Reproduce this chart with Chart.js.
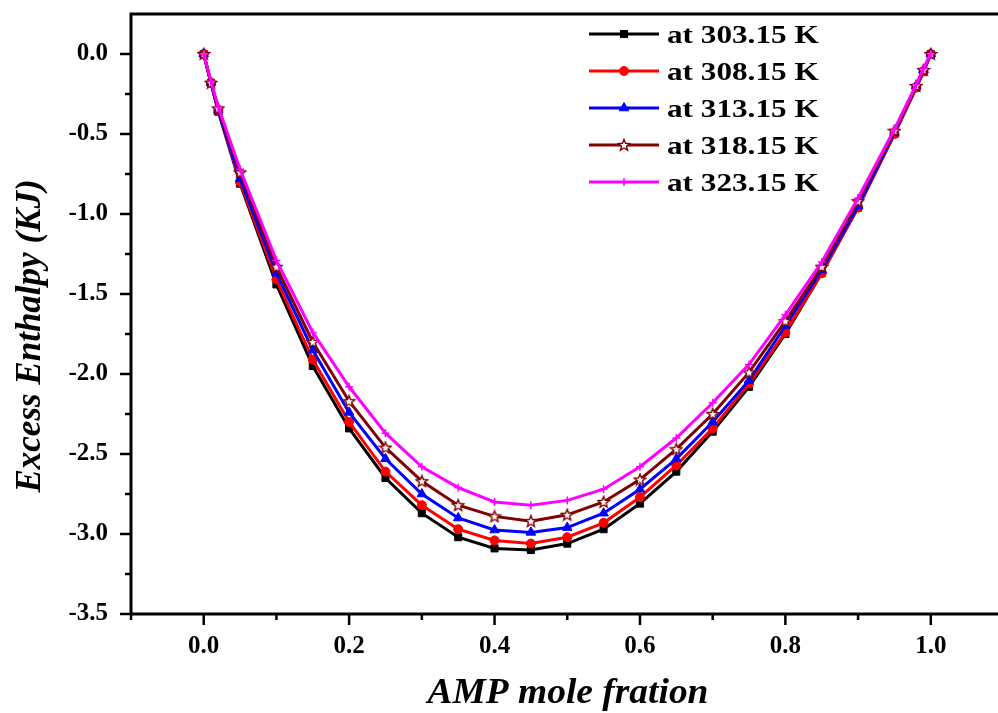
<!DOCTYPE html>
<html>
<head>
<meta charset="utf-8">
<script src="https://cdn.jsdelivr.net/npm/chart.js@4.4.1/dist/chart.umd.min.js"></script>
<style>
html,body{margin:0;padding:0;background:#fff;overflow:hidden;}
#wrap{width:998px;height:713px;position:relative;}
canvas{display:block;}
</style>
</head>
<body>
<div id="wrap"><canvas id="c" width="998" height="713"></canvas></div>
<script>
// ---- data ----
const moleFraction = [0,0.01,0.02,0.05,0.1,0.15,0.2,0.25,0.3,0.35,0.4,0.45,0.5,0.55,0.6,0.65,0.7,0.75,0.8,0.85,0.9,0.95,0.98,0.99,1.0];
const hE_303 = [0,-0.18,-0.36,-0.81,-1.44,-1.95,-2.34,-2.65,-2.87,-3.02,-3.09,-3.10,-3.06,-2.97,-2.81,-2.61,-2.36,-2.08,-1.75,-1.37,-0.96,-0.50,-0.21,-0.11,0];
const hE_308 = [0,-0.18,-0.35,-0.80,-1.41,-1.91,-2.30,-2.61,-2.82,-2.97,-3.04,-3.06,-3.02,-2.93,-2.77,-2.57,-2.34,-2.06,-1.74,-1.37,-0.96,-0.50,-0.21,-0.11,0];
const hE_313 = [0,-0.18,-0.35,-0.78,-1.37,-1.85,-2.24,-2.53,-2.75,-2.90,-2.975,-2.99,-2.96,-2.87,-2.72,-2.53,-2.30,-2.04,-1.70,-1.35,-0.95,-0.49,-0.20,-0.10,0];
const hE_318 = [0,-0.18,-0.34,-0.74,-1.33,-1.80,-2.17,-2.46,-2.67,-2.82,-2.89,-2.92,-2.88,-2.80,-2.66,-2.47,-2.25,-1.99,-1.67,-1.33,-0.92,-0.48,-0.20,-0.10,0];
const hE_323 = [0,-0.17,-0.33,-0.72,-1.29,-1.74,-2.08,-2.37,-2.58,-2.71,-2.80,-2.82,-2.79,-2.72,-2.58,-2.40,-2.18,-1.94,-1.63,-1.30,-0.90,-0.47,-0.19,-0.09,0];
const seriesLabels = ['at 303.15 K','at 308.15 K','at 313.15 K','at 318.15 K','at 323.15 K'];
const xTickValues = [0,0.2,0.4,0.6,0.8,1.0];
const yTickValues = [0,-0.5,-1.0,-1.5,-2.0,-2.5,-3.0,-3.5];
const xTitle = 'AMP mole fration';
const yTitle = 'Excess Enthalpy (KJ)';

const seriesValues = [hE_303,hE_308,hE_313,hE_318,hE_323];

// five-point star marker (white fill, dark red outline)
function makeStar(){
  const c = document.createElement('canvas');
  c.width = 14; c.height = 14;
  const g = c.getContext('2d');
  const cx = 7, cy = 7.4, R = 6, r = 2.6;
  g.beginPath();
  for (let k = 0; k < 10; k++) {
    const ang = -Math.PI/2 + k*Math.PI/5;
    const rad = (k % 2 === 0) ? R : r;
    const px = cx + rad*Math.cos(ang), py = cy + rad*Math.sin(ang);
    if (k === 0) g.moveTo(px,py); else g.lineTo(px,py);
  }
  g.closePath();
  g.fillStyle = '#FFFFFF'; g.fill();
  g.strokeStyle = '#800000'; g.lineWidth = 1.4; g.stroke();
  return c;
}
const starImg = makeStar();

const styles = [
  {color:'#000000', fill:'#000000', pointStyle:'rect', radius:5, bw:1},
  {color:'#FF0000', fill:'#FF0000', pointStyle:'circle', radius:4.5, bw:1},
  {color:'#0000FF', fill:'#0000FF', pointStyle:'triangle', radius:5.5, bw:1},
  {color:'#800000', fill:'#FFFFFF', pointStyle:starImg, radius:6, bw:1.3},
  {color:'#FF00FF', fill:'#FF00FF', pointStyle:'cross', radius:4, bw:1.5}
];

const datasets = seriesValues.map((vals,i)=>({
  label: seriesLabels[i],
  data: moleFraction.map((x,j)=>({x:x,y:vals[j]})),
  borderColor: styles[i].color,
  backgroundColor: styles[i].fill,
  pointBorderColor: styles[i].color,
  pointBackgroundColor: styles[i].fill,
  pointStyle: styles[i].pointStyle,
  pointRadius: styles[i].radius,
  pointBorderWidth: styles[i].bw,
  borderWidth: 3,
  tension: 0,
  order: 5 - i
}));

const SERIF = '"Liberation Serif", "Times New Roman", serif';

function drawMarker(ctx, st, x, y){
  ctx.save();
  if (typeof st.pointStyle !== 'string') {
    ctx.drawImage(st.pointStyle, x - st.pointStyle.width/2, y - st.pointStyle.height/2);
  } else {
    const opts = {pointStyle: st.pointStyle, radius: st.radius, borderWidth: st.bw, rotation: 0};
    ctx.fillStyle = st.fill; ctx.strokeStyle = st.color; ctx.lineWidth = st.bw;
    if (Chart.helpers && Chart.helpers.drawPoint) {
      Chart.helpers.drawPoint(ctx, opts, x, y);
    } else {
      ctx.beginPath(); ctx.arc(x,y,st.radius,0,Math.PI*2); ctx.fill(); ctx.stroke();
    }
  }
  ctx.restore();
}

const decor = {
  id:'decor',
  afterDraw(chart){
    const ctx = chart.ctx;
    const a = chart.chartArea;
    const xs = chart.scales.x, ys = chart.scales.y;
    ctx.save();
    // frame (right side lies beyond the picture edge)
    ctx.strokeStyle = '#000'; ctx.lineWidth = 3;
    ctx.beginPath();
    ctx.moveTo(a.left, a.bottom); ctx.lineTo(a.left, a.top);
    ctx.lineTo(chart.width + 2, a.top);
    ctx.moveTo(a.left, a.bottom); ctx.lineTo(chart.width + 2, a.bottom);
    ctx.stroke();
    // x ticks (major every 0.2, minor every 0.1)
    ctx.lineWidth = 2.5;
    for (let k = -1; k <= 10; k++) {
      const v = k/10;
      const px = xs.getPixelForValue(v);
      if (px < a.left - 1 || px > a.right) continue;
      const major = (k % 2 === 0);
      ctx.beginPath(); ctx.moveTo(px, a.bottom); ctx.lineTo(px, a.bottom + (major ? 11 : 6)); ctx.stroke();
    }
    // y ticks (major every 0.5, minor every 0.25)
    for (let k = 0; k <= 14; k++) {
      const v = -k*0.25;
      const py = ys.getPixelForValue(v);
      const major = (k % 2 === 0);
      ctx.beginPath(); ctx.moveTo(a.left, py); ctx.lineTo(a.left - (major ? 11 : 6), py); ctx.stroke();
    }
    // axis titles
    ctx.fillStyle = '#000';
    ctx.font = 'italic bold 35px ' + SERIF;
    ctx.textAlign = 'center'; ctx.textBaseline = 'middle';
    ctx.save();
    ctx.translate(568, 694); ctx.scale(1.07, 1);
    ctx.fillText(xTitle, 0, 0);
    ctx.restore();
    ctx.save();
    ctx.translate(31, 336); ctx.rotate(-Math.PI/2);
    ctx.fillText(yTitle, 0, 0);
    ctx.restore();
    // legend
    const rows = [34,71,108,145,182];
    ctx.font = 'bold 26px ' + SERIF;
    ctx.textAlign = 'left'; ctx.textBaseline = 'alphabetic';
    for (let i = 0; i < seriesLabels.length; i++) {
      const st = styles[i]; const y = rows[i];
      ctx.strokeStyle = st.color; ctx.lineWidth = 3;
      ctx.beginPath(); ctx.moveTo(589, y); ctx.lineTo(659, y); ctx.stroke();
      drawMarker(ctx, st, 624, y);
      ctx.fillStyle = '#000';
      ctx.save();
      ctx.translate(667, y + 8.5); ctx.scale(1.2, 1);
      ctx.fillText(seriesLabels[i], 0, 0);
      ctx.restore();
    }
    ctx.restore();
  }
};

function fmt(v){ let s = Number(v).toFixed(1); if (s === '-0.0') s = '0.0'; return s; }
function zeroPad(s){ s.paddingTop = 0; s.paddingBottom = 0; s.paddingLeft = 0; s.paddingRight = 0; }

new Chart(document.getElementById('c'), {
  type: 'line',
  data: { datasets: datasets },
  options: {
    responsive: false,
    animation: false,
    events: [],
    layout: { padding: { top: 14, right: 0, left: 0, bottom: 0 } },
    plugins: { legend: { display: false }, tooltip: { enabled: false }, title: { display: false } },
    scales: {
      x: {
        type: 'linear',
        min: -0.1, max: 1.0824,
        afterFit(s){ s.height = 99; zeroPad(s); },
        afterBuildTicks(s){ s.ticks = xTickValues.map(v=>({value:v})); },
        grid: { display: true, drawOnChartArea: false, drawTicks: false, tickLength: 0 },
        border: { display: false },
        ticks: { padding: 18, color: '#000', font: { family: SERIF, size: 25, weight: 'bold' }, callback: (v)=>fmt(v), maxRotation: 0, autoSkip: false }
      },
      y: {
        type: 'linear',
        min: -3.5, max: 0.25,
        afterFit(s){ s.width = 131; zeroPad(s); },
        afterBuildTicks(s){ s.ticks = yTickValues.map(v=>({value:v})); },
        grid: { display: true, drawOnChartArea: false, drawTicks: false, tickLength: 0 },
        border: { display: false },
        ticks: { padding: 23, color: '#000', font: { family: SERIF, size: 25, weight: 'bold' }, callback: (v)=>fmt(v), autoSkip: false }
      }
    }
  },
  plugins: [decor]
});
</script>
</body>
</html>
